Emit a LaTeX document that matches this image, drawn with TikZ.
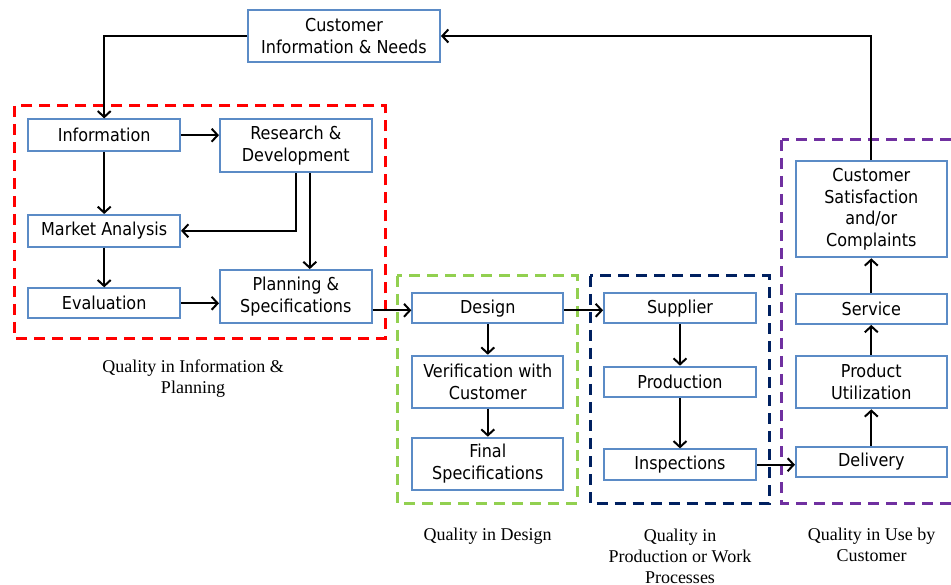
\documentclass[tikz,border=0pt]{standalone}
\usepackage{fontspec}
\setmainfont{DejaVu Sans Condensed}
\newfontfamily\capfont{Liberation Serif}
\usetikzlibrary{arrows.meta}
\definecolor{boxblue}{HTML}{5B8BC6}
\definecolor{frred}{HTML}{FF0000}
\definecolor{frgreen}{HTML}{92D050}
\definecolor{frnavy}{HTML}{002060}
\definecolor{frpurple}{HTML}{7030A0}
\tikzset{
  stagebox/.style={draw=boxblue, line width=1.9pt, fill=white, align=center,
    inner sep=0pt, font=\fontsize{17.8}{21.5}\selectfont},
  arr/.style={draw=black, line width=2.2pt,
    -{Straight Barb[length=6pt,width=13pt,line width=2pt]}},
  frame/.style={line width=3pt, dash pattern=on 11pt off 7pt},
  caption/.style={align=center, font=\capfont\fontsize{18}{21}\selectfont, text=black}
}
\begin{document}
\begin{tikzpicture}[x=1pt,y=-1pt]
\clip (0,0) rectangle (951,585);
\fill[white] (0,0) rectangle (951,585);

% dashed stage frames
\draw[frame, frred] (14.3,106) rectangle (385,338.3);
\draw[frame, frgreen] (397.3,276) rectangle (577.3,503.3);
\draw[frame, frnavy] (590,276) rectangle (769.3,503.3);
\draw[frame, frpurple] (781.7,140) rectangle (962,503.3);

% process boxes
\node[stagebox, minimum width=192pt, minimum height=52pt] (cin) at (344,36) {Customer\\Information \& Needs};
\node[stagebox, minimum width=151.7pt, minimum height=31.7pt] (info) at (104.2,135.2) {Information};
\node[stagebox, minimum width=151.7pt, minimum height=53pt] (rd) at (295.8,145.8) {Research \&\\Development};
\node[stagebox, minimum width=151.7pt, minimum height=31.7pt] (mkt) at (104.2,230.8) {Market Analysis};
\node[stagebox, minimum width=151.7pt, minimum height=30pt] (eval) at (104.2,303.3) {Evaluation};
\node[stagebox, minimum width=151.7pt, minimum height=53.3pt] (plan) at (295.8,296.7) {Planning \&\\Specifications};

\node[stagebox, minimum width=151pt, minimum height=30pt] (design) at (487.8,308.3) {Design};
\node[stagebox, minimum width=151pt, minimum height=52pt] (verif) at (487.8,381.7) {Verification with\\Customer};
\node[stagebox, minimum width=151pt, minimum height=52.3pt] (final) at (487.8,463.8) {Final\\Specifications};

\node[stagebox, minimum width=152pt, minimum height=30pt] (supp) at (680,308.3) {Supplier};
\node[stagebox, minimum width=152pt, minimum height=30.7pt] (prod) at (680,382) {Production};
\node[stagebox, minimum width=152pt, minimum height=30.7pt] (insp) at (680,464.7) {Inspections};

\node[stagebox, minimum width=150.7pt, minimum height=30pt] (deliv) at (871.3,461.7) {Delivery};
\node[stagebox, minimum width=150.7pt, minimum height=52.7pt] (util) at (871.3,382) {Product\\Utilization};
\node[stagebox, minimum width=150.7pt, minimum height=30pt] (serv) at (871.3,309) {Service};
\node[stagebox, minimum width=150.7pt, minimum height=96.7pt] (sat) at (871.3,209) {Customer\\Satisfaction\\and/or\\Complaints};

% stage captions (anchored at the baseline of their last line)
\node[caption, anchor=base] (capA) at (193,394) {Quality in Information \&\\Planning};
\node[caption, anchor=base] (capB) at (487.5,540) {Quality in Design};
\node[caption, anchor=base] (capC) at (680,583) {Quality in\\Production or Work\\Processes};
\node[caption, anchor=base] (capD) at (871.5,561) {Quality in Use by\\Customer};

% connectors
\draw[arr] (cin.west) -| (info.north);
\draw[arr] (sat.north) |- (cin.east);
\draw[arr] (info.east) -- (info.east -| rd.west);
\draw[arr] (info.south) -- (mkt.north);
\draw[arr] (rd.south) |- (mkt.east);
\draw[arr] ([xshift=14pt]rd.south) -- ([xshift=14pt]plan.north);
\draw[arr] (mkt.south) -- (eval.north);
\draw[arr] (eval.east) -- (eval.east -| plan.west);
\draw[arr] ([yshift=-2pt]design.west -| plan.east) -- ([yshift=-2pt]design.west);
\draw[arr] ([yshift=-2pt]design.east) -- ([yshift=-2pt]supp.west);
\draw[arr] (design.south) -- (verif.north);
\draw[arr] (verif.south) -- (final.north);
\draw[arr] (supp.south) -- (prod.north);
\draw[arr] (prod.south) -- (insp.north);
\draw[arr] (insp.east) -- (insp.east -| deliv.west);
\draw[arr] (deliv.north) -- (util.south);
\draw[arr] (util.north) -- (serv.south);
\draw[arr] (serv.north) -- (sat.south);
\end{tikzpicture}
\end{document}
